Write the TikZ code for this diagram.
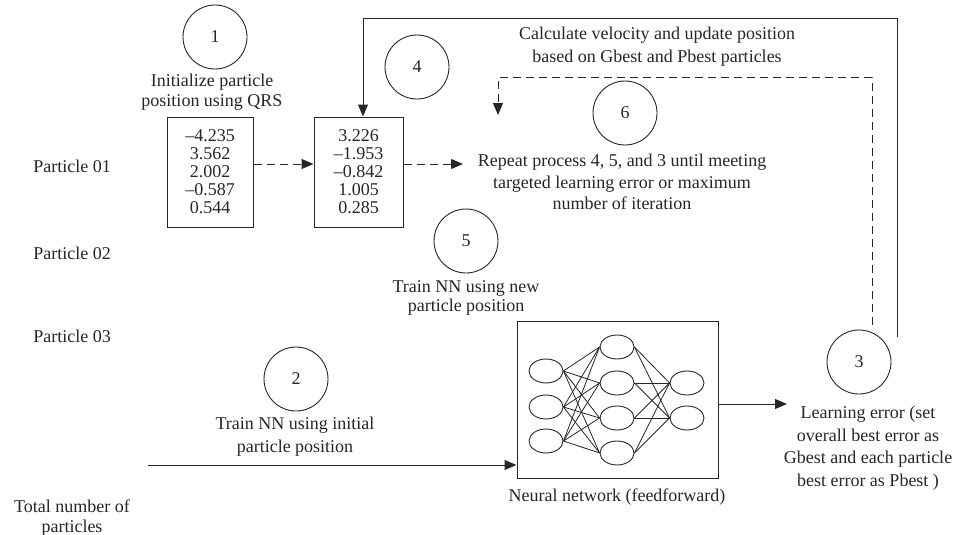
\documentclass[tikz,border=0pt]{standalone}
\usepackage{fontspec}
\setmainfont{Liberation Serif}
\usetikzlibrary{arrows.meta,shapes.geometric}
\begin{document}
\begin{tikzpicture}[x=1pt,y=-1pt,color=black!85,
  every node/.style={font=\fontsize{18}{21}\selectfont},
  num/.style={circle, draw, minimum size=64pt, inner sep=0pt, line width=0.9pt},
  lbl/.style={align=center, inner sep=0pt},
  valbox/.style={draw, line width=1pt, minimum height=110pt, align=center, font=\fontsize{18}{18}\selectfont, inner sep=0pt},
  neuron/.style={ellipse, draw, line width=0.9pt, minimum width=34pt, minimum height=24pt, inner sep=0pt},
  arr/.style={-{Triangle[length=12pt,width=10pt]}, line width=1pt},
  dasharr/.style={arr, dash pattern=on 8pt off 5pt},
  wire/.style={line width=0.8pt}
]
\useasboundingbox (0,0) rectangle (959,535);

% left labels
\node[lbl] (p1) at (72,166) {Particle 01};
\node[lbl] (p2) at (72,253) {Particle 02};
\node[lbl] (p3) at (72,336) {Particle 03};
\node[lbl, font=\fontsize{18}{20}\selectfont] (tot) at (72,518) {Total number of\\particles};

% step circles
\node[num] (c1) at (215,37) {1};
\node[num] (c4) at (417,67) {4};
\node[num] (c6) at (625,113) {6};
\node[num] (c5) at (466,241) {5};
\node[num] (c2) at (296,379) {2};
\node[num] (c3) at (859,362) {3};

% texts
\node[lbl, font=\fontsize{18}{20}\selectfont] (t1) at (212,92) {Initialize particle\\position using QRS};
\node[lbl, font=\fontsize{18}{23}\selectfont] (t4) at (657,47) {Calculate velocity and update position\\based on Gbest and Pbest particles};
\node[lbl, font=\fontsize{18}{21.5}\selectfont] (t6) at (622,182) {Repeat process 4, 5, and 3 until meeting\\targeted learning error or maximum\\number of iteration};
\node[lbl, font=\fontsize{18}{18.5}\selectfont] (t5) at (466,298) {Train NN using new\\particle position};
\node[lbl, font=\fontsize{18}{23}\selectfont] (t2) at (295,437) {Train NN using initial\\particle position};
\node[lbl] (tnn) at (617,497) {Neural network (feedforward)};
\node[lbl, font=\fontsize{18}{22.5}\selectfont] (t3) at (868,448) {Learning error (set\\overall best error as\\Gbest and each particle\\best error as Pbest )};

% value boxes
\node[valbox, minimum width=86pt] (b1) at (210,172) {\textendash4.235\\3.562\\2.002\\\textendash0.587\\0.544};
\node[valbox, minimum width=89pt] (b2) at (358.5,172) {3.226\\\textendash1.953\\\textendash0.842\\1.005\\0.285};

% neural network box
\node[draw, line width=1pt, minimum width=201pt, minimum height=157pt, inner sep=0pt] (nn) at (617.5,400) {};
\node[neuron] (i1) at (546,371) {};
\node[neuron] (i2) at (546,407) {};
\node[neuron] (i3) at (546,441) {};
\node[neuron] (h1) at (617,347) {};
\node[neuron] (h2) at (617,383) {};
\node[neuron] (h3) at (617,418) {};
\node[neuron] (h4) at (617,453) {};
\node[neuron] (o1) at (687,383) {};
\node[neuron] (o2) at (687,418) {};
\foreach \i in {i1,i2,i3}{\foreach \h in {h1,h2,h3,h4}{\draw[wire] (\i.east) -- (\h.west);}}
\foreach \h in {h1,h2,h3,h4}{\foreach \o in {o1,o2}{\draw[wire] (\h.east) -- (\o.west);}}

% coordinates
\coordinate (rep) at (463,164);
\coordinate (fbs) at (897,337);
\coordinate (fbtop) at (897,19);
\coordinate (dfs) at (872,325);
\coordinate (dftop) at (872,78);
\coordinate (dfe) at (498,115);
\coordinate (ins) at (148,465);
\coordinate (outend) at (787,404);

% connectors
\draw[dasharr] ([yshift=8pt]b1.east) -- ([yshift=8pt]b2.west);
\draw[dasharr] ([yshift=8pt]b2.east) -- (rep);
\draw[arr] (fbs) -- (fbtop) -| ([xshift=4.5pt]b2.north);
\draw[dasharr] (dfs) -- (dftop) -| (dfe);
\draw[arr] (ins) -- (ins -| nn.west);
\draw[arr] (nn.east |- outend) -- (outend);
\end{tikzpicture}
\end{document}
